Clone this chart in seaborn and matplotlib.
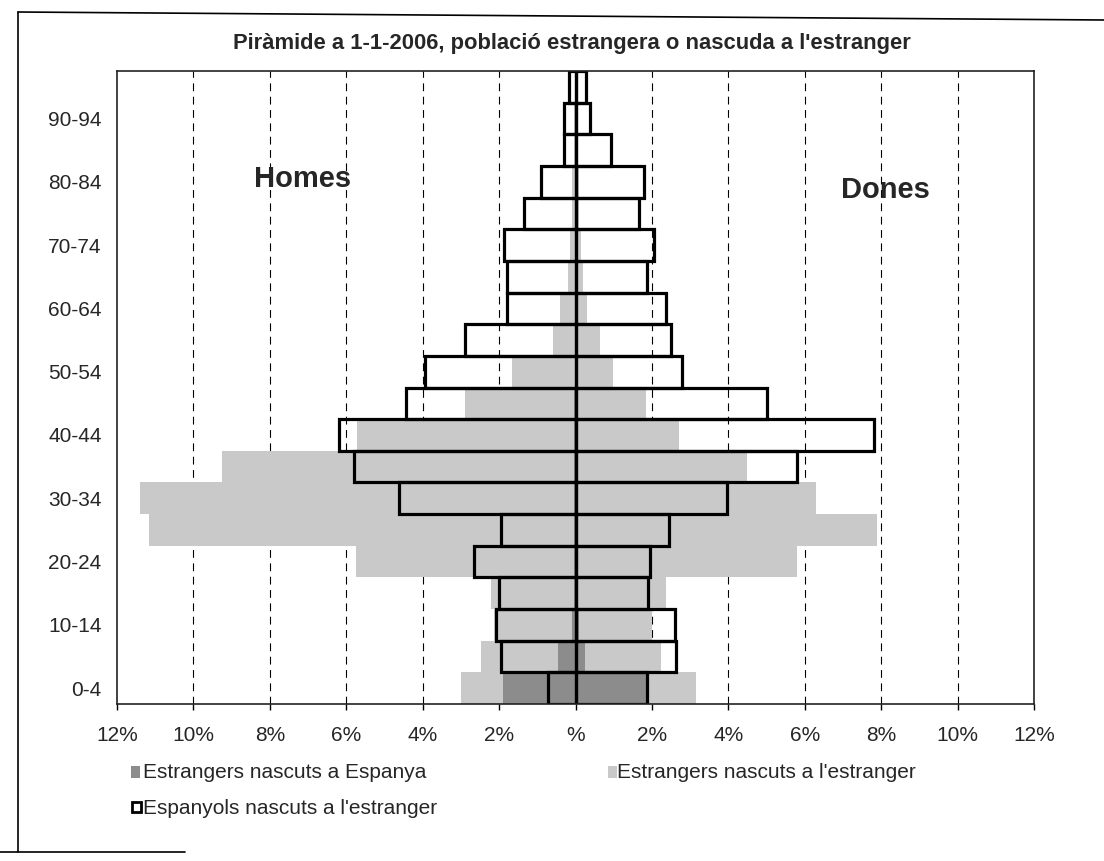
import matplotlib
matplotlib.use("Agg")
import numpy as np
import pandas as pd
import matplotlib.pyplot as plt
import seaborn as sns
from matplotlib.patches import Rectangle
from matplotlib.lines import Line2D

# Age groups, bottom (0-4) to top
edats = ['0-4', '5-9', '10-14', '15-19', '20-24', '25-29', '30-34', '35-39',
         '40-44', '45-49', '50-54', '55-59', '60-64', '65-69', '70-74',
         '75-79', '80-84', '85-89', '90-94', '95 i més']

# Percentages (Homes = left, Dones = right)
estr_espanya_homes = [1.9, 0.45, 0.1, 0.05, 0.05, 0.05, 0.05, 0.05, 0.05, 0.05,
                      0.0, 0.0, 0.0, 0.0, 0.0, 0.0, 0.0, 0.0, 0.0, 0.0]
estr_espanya_dones = [1.84, 0.25, 0.1, 0.05, 0.05, 0.05, 0.05, 0.05, 0.05, 0.05,
                      0.0, 0.0, 0.0, 0.0, 0.0, 0.0, 0.0, 0.0, 0.0, 0.0]
estr_estranger_homes = [3.0, 2.47, 2.12, 2.2, 5.75, 11.15, 11.4, 9.24, 5.72, 2.89,
                        1.65, 0.6, 0.4, 0.2, 0.15, 0.1, 0.1, 0.05, 0.05, 0.02]
estr_estranger_dones = [3.15, 2.23, 1.99, 2.36, 5.8, 7.9, 6.3, 4.5, 2.7, 1.84,
                        0.97, 0.64, 0.3, 0.2, 0.15, 0.1, 0.1, 0.05, 0.05, 0.02]
esp_estranger_homes = [0.73, 1.94, 2.07, 2.0, 2.65, 1.94, 4.62, 5.8, 6.19, 4.43,
                       3.95, 2.89, 1.79, 1.79, 1.86, 1.34, 0.89, 0.31, 0.29, 0.16]
esp_estranger_dones = [1.86, 2.62, 2.6, 1.89, 1.94, 2.44, 3.96, 5.8, 7.8, 5.0,
                       2.8, 2.5, 2.36, 1.87, 2.05, 1.65, 1.78, 0.92, 0.37, 0.28]

tick_vals = list(range(-12, 13, 2))
tick_labels = ['%' if v == 0 else f'{abs(v)}%' for v in tick_vals]


def taula(homes, dones):
    return pd.DataFrame({
        'edat': edats + edats,
        'valor': [-v for v in homes] + list(dones),
        'sexe': ['Homes'] * len(edats) + ['Dones'] * len(edats),
    })


sns.set_style('white')
plt.rcParams['font.family'] = ['Liberation Sans', 'DejaVu Sans']

fig = plt.figure(figsize=(11.04, 8.61), dpi=100)
W, H = 1104, 861
ax = fig.add_axes([117 / W, 1 - 704 / H, (1034 - 117) / W, (704 - 71) / H])

ordre = edats[::-1]
light = '#c9c9c9'
dark = '#8c8c8c'

sns.barplot(data=taula(estr_estranger_homes, estr_estranger_dones), x='valor', y='edat',
            hue='sexe', order=ordre, dodge=False, width=1, errorbar=None,
            palette={'Homes': light, 'Dones': light}, linewidth=0, legend=False,
            orient='h', ax=ax)
sns.barplot(data=taula(estr_espanya_homes, estr_espanya_dones), x='valor', y='edat',
            hue='sexe', order=ordre, dodge=False, width=1, errorbar=None,
            palette={'Homes': dark, 'Dones': dark}, linewidth=0, legend=False,
            orient='h', ax=ax)
sns.barplot(data=taula(esp_estranger_homes, esp_estranger_dones), x='valor', y='edat',
            hue='sexe', order=ordre, dodge=False, width=1, errorbar=None,
            palette={'Homes': 'black', 'Dones': 'black'}, fill=False, linewidth=2.3,
            legend=False, orient='h', ax=ax)

ax.set_xlim(-12, 12)
ax.set_ylim(len(edats) - 0.5, -0.5)
ax.set_xticks(tick_vals)
ax.set_xticklabels(tick_labels, fontsize=15)
pos = [len(edats) - 1 - i for i in range(0, len(edats), 2)]
ax.set_yticks(pos)
ax.set_yticklabels([edats[i] for i in range(0, len(edats), 2)], fontsize=15)
ax.set_xlabel('')
ax.set_ylabel('')
ax.tick_params(axis='x', direction='out', length=4, width=1, color='black', pad=12,
               bottom=True)
ax.tick_params(axis='y', length=0, pad=11)

for v in [-10, -8, -6, -4, -2, 2, 4, 6, 8, 10]:
    ax.axvline(v, color='black', lw=0.8, ls=(0, (7, 5)), zorder=0)

for s in ax.spines.values():
    s.set_visible(True)
    s.set_color('#222222')
    s.set_linewidth(1.2)

ax.text(-7.15, 2.9, 'Homes', fontsize=21, fontweight='bold', ha='center', va='center')
ax.text(8.1, 3.25, 'Dones', fontsize=21, fontweight='bold', ha='center', va='center')

fig.text(572 / W, 1 - 43 / H,
         "Piràmide a 1-1-2006, població estrangera o nascuda a l'estranger",
         fontsize=15.8, fontweight='bold', ha='center', va='center')

# legend, drawn by hand
def caixa(x, y, w, h, fc, ec, lw):
    fig.add_artist(Rectangle((x / W, 1 - (y + h) / H), w / W, h / H, facecolor=fc,
                             edgecolor=ec, linewidth=lw, transform=fig.transFigure))

caixa(131, 766, 9, 12, dark, 'none', 0)
fig.text(143 / W, 1 - 772 / H, 'Estrangers nascuts a Espanya', fontsize=15, va='center')
caixa(608, 766, 9, 12, light, 'none', 0)
fig.text(617 / W, 1 - 772 / H, "Estrangers nascuts a l'estranger", fontsize=15, va='center')
caixa(132, 802, 9, 10, 'white', 'black', 2)
fig.text(143 / W, 1 - 808 / H, "Espanyols nascuts a l'estranger", fontsize=15, va='center')

# outer chart border
fig.add_artist(Line2D([18 / W, 18 / W], [1 - 12 / H, 1 - 852 / H], color='black',
                      lw=1.2, transform=fig.transFigure))
fig.add_artist(Line2D([18 / W, 1.0], [1 - 12 / H, 1 - 20 / H], color='black',
                      lw=1.2, transform=fig.transFigure))
fig.add_artist(Line2D([0, 185 / W], [1 - 852 / H, 1 - 852 / H], color='black',
                      lw=1.2, transform=fig.transFigure))

fig.savefig('out.png', dpi=100)
